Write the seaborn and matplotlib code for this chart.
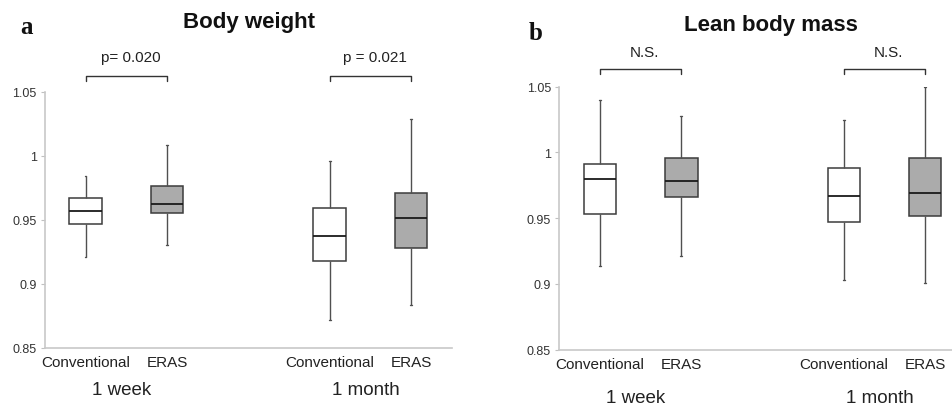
import numpy as np
import pandas as pd
import matplotlib
matplotlib.use("Agg")
import matplotlib.pyplot as plt
import seaborn as sns

# ---------------------------------------------------------------------------
# data: five-number summaries (min, Q1, median, Q3, max)
# ---------------------------------------------------------------------------
groups = ["Conventional", "ERAS", "Conventional", "ERAS"]
positions = [0, 1, 3, 4]
timepoints = ["1 week", "1 month"]

bw_conv_1w = [0.921, 0.947, 0.957, 0.967, 0.984]
bw_eras_1w = [0.930, 0.955, 0.962, 0.976, 1.008]
bw_conv_1m = [0.872, 0.918, 0.937, 0.959, 0.996]
bw_eras_1m = [0.883, 0.928, 0.951, 0.971, 1.029]

lbm_conv_1w = [0.914, 0.953, 0.980, 0.991, 1.040]
lbm_eras_1w = [0.921, 0.966, 0.978, 0.996, 1.028]
lbm_conv_1m = [0.903, 0.947, 0.967, 0.988, 1.025]
lbm_eras_1m = [0.901, 0.952, 0.969, 0.996, 1.050]

bw_labels = ["p= 0.020", "p = 0.021"]
lbm_labels = ["N.S.", "N.S."]

yticks = [0.85, 0.9, 0.95, 1.0, 1.05]
ytick_labels = ["0.85", "0.9", "0.95", "1", "1.05"]

PALETTE = {"Conventional": "white", "ERAS": "#ababab"}

sns.set_style("white")
plt.rcParams["font.family"] = ["Liberation Sans", "DejaVu Sans"]


def to_frame(summaries):
    rows = []
    for pos, grp, vals in zip(positions, groups, summaries):
        for v in vals:
            rows.append({"pos": pos, "group": grp, "value": v})
    return pd.DataFrame(rows)


def draw_panel(ax, summaries, sig_labels, br_top, br_tick, txt_y, tp_y):
    df = to_frame(summaries)
    sns.boxplot(data=df, x="pos", y="value", hue="group", palette=PALETTE,
                native_scale=True, width=0.4, whis=(0, 100), dodge=False,
                linecolor="#3c3c3c", linewidth=1.1, legend=False, ax=ax,
                capwidths=0.02,
                medianprops=dict(color="#1a1a1a", linewidth=1.3),
                whiskerprops=dict(color="#505050", linewidth=1.0),
                capprops=dict(color="#505050", linewidth=1.0))
    ax.set_xlim(-0.5, 4.5)
    ax.set_ylim(0.85, 1.05)
    ax.set_xlabel("")
    ax.set_ylabel("")

    ax.set_xticks(positions)
    ax.set_xticklabels(groups, fontsize=11, color="#222222")
    ax.tick_params(axis="x", length=0, pad=5)
    ax.set_yticks(yticks)
    ax.set_yticklabels(ytick_labels, fontsize=9, color="#333333")
    ax.tick_params(axis="y", length=3, width=0.8, color="#c0c0c0", pad=3, left=True)

    for s in ["top", "right"]:
        ax.spines[s].set_visible(False)
    for s in ["left", "bottom"]:
        ax.spines[s].set_color("#c8c8c8")
        ax.spines[s].set_linewidth(1.2)

    # significance brackets
    for i, lab in enumerate(sig_labels):
        x0, x1 = positions[2 * i], positions[2 * i + 1]
        ax.plot([x0, x0, x1, x1], [br_tick, br_top, br_top, br_tick],
                color="#333333", lw=1.0, clip_on=False)
        ax.text((x0 + x1) / 2 + 0.05, txt_y, lab, ha="center", va="center",
                fontsize=11, color="#222222", clip_on=False)

    # timepoint labels
    for i, tp in enumerate(timepoints):
        xm = (positions[2 * i] + positions[2 * i + 1]) / 2 - 0.06
        ax.text(xm, tp_y, tp, ha="center", va="center", fontsize=13.5,
                color="#222222", clip_on=False)


fig = plt.figure(figsize=(9.53, 4.06), dpi=100)
ax1 = fig.add_axes([0.0472, 0.1411, 0.4268, 0.6305])
ax2 = fig.add_axes([0.5869, 0.1362, 0.4266, 0.6478])

draw_panel(ax1, [bw_conv_1w, bw_eras_1w, bw_conv_1m, bw_eras_1m], bw_labels,
           1.0625, 1.0586, 1.0771, 0.8177)
draw_panel(ax2, [lbm_conv_1w, lbm_eras_1w, lbm_conv_1m, lbm_eras_1m], lbm_labels,
           1.0635, 1.0597, 1.0764, 0.8138)

fig.text(249 / 953, 1 - 22.7 / 406, "Body weight", ha="center", va="center",
         fontsize=16, fontweight="bold", color="#111111")
fig.text(771 / 953, 1 - 25 / 406, "Lean body mass", ha="center", va="center",
         fontsize=16, fontweight="bold", color="#111111")
fig.text(27 / 953, 1 - 28 / 406, "a", ha="center", va="center", fontsize=18,
         fontweight="bold", family=["Liberation Serif", "DejaVu Serif"], color="#111111")
fig.text(536 / 953, 1 - 33 / 406, "b", ha="center", va="center", fontsize=18,
         fontweight="bold", family=["Liberation Serif", "DejaVu Serif"], color="#111111")

fig.savefig("out.png", dpi=100)
